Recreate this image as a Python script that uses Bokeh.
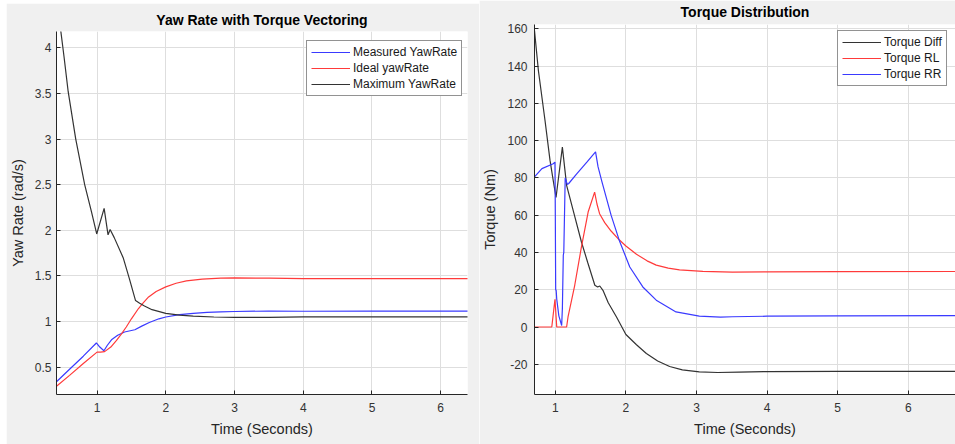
from bokeh.plotting import figure
from bokeh.layouts import row
from bokeh.models import (FixedTicker, CustomJSTickFormatter, Legend,
                          LegendItem, Range1d)
from bokeh.embed import file_html
from bokeh.resources import INLINE

# ---------------- data: Yaw Rate with Torque Vectoring ----------------
yaw_titles = ["Measured YawRate", "Ideal yawRate", "Maximum YawRate"]

t_measured = [0.41, 0.6, 0.8, 0.99, 1.04, 1.10, 1.15, 1.21, 1.30, 1.40, 1.55,
              1.65, 1.76, 1.9, 2.0, 2.2, 2.4, 2.6, 2.8, 3.0, 3.5, 4.0, 5.0, 6.4]
measured_yaw = [0.34, 0.477, 0.62, 0.765, 0.72, 0.68, 0.74, 0.80, 0.85, 0.885,
                0.91, 0.95, 0.99, 1.03, 1.05, 1.075, 1.09, 1.10, 1.105, 1.11,
                1.115, 1.113, 1.115, 1.115]

t_ideal = [0.41, 0.6, 0.8, 1.0, 1.05, 1.11, 1.2, 1.28, 1.35, 1.425, 1.5, 1.6,
           1.665, 1.75, 1.86, 2.0, 2.15, 2.3, 2.53, 2.8, 3.0, 3.5, 4.0, 5.0, 6.4]
ideal_yaw = [0.29, 0.41, 0.54, 0.665, 0.665, 0.67, 0.72, 0.79, 0.86, 0.94, 1.03,
             1.14, 1.20, 1.27, 1.33, 1.38, 1.42, 1.445, 1.465, 1.475, 1.478,
             1.475, 1.47, 1.47, 1.47]

t_maximum = [0.41, 0.47, 0.52, 0.58, 0.69, 0.82, 0.92, 0.995, 1.103, 1.16, 1.19,
             1.25, 1.38, 1.47, 1.56, 1.62, 1.69, 1.8, 2.0, 2.2, 2.4, 2.7, 3.0,
             3.5, 4.0, 5.0, 6.4]
maximum_yaw = [4.55, 4.2, 3.9, 3.52, 3.0, 2.5, 2.2, 1.96, 2.24, 1.95, 2.01, 1.92,
               1.70, 1.47, 1.23, 1.20, 1.17, 1.13, 1.09, 1.07, 1.06, 1.05, 1.045,
               1.045, 1.05, 1.05, 1.05]

yaw_xticks = [1, 2, 3, 4, 5, 6]
yaw_yticks = [0.5, 1, 1.5, 2, 2.5, 3, 3.5, 4]

# ---------------- data: Torque Distribution ----------------
torque_titles = ["Torque Diff", "Torque RL", "Torque RR"]

t_diff = [0.705, 0.76, 0.854, 0.925, 0.97, 1.01, 1.10, 1.16, 1.25, 1.37, 1.46,
          1.56, 1.60, 1.63, 1.675, 1.75, 1.867, 2.0, 2.15, 2.29, 2.45, 2.62,
          2.8, 3.04, 3.3, 3.6, 4.0, 5.0, 6.7]
torque_diff = [159, 137.6, 110.8, 89.4, 78.7, 69.5, 96.5, 76, 63, 45.6, 34.5,
               22.4, 21.5, 22.0, 19.7, 13, 5.4, -4, -9.5, -14.2, -18.2, -21.2,
               -23.0, -24.1, -24.4, -24.2, -23.9, -23.8, -23.8]

t_rl = [0.705, 0.95, 0.995, 1.02, 1.16, 1.18, 1.275, 1.37, 1.465, 1.557, 1.59,
        1.627, 1.70, 1.79, 1.905, 2.0, 2.15, 2.3, 2.43, 2.6, 2.76, 3.09, 3.51,
        4.0, 5.0, 6.7]
torque_rl = [0, 0, 14.9, 0, 0, 5.4, 22.4, 43, 61.7, 72.4, 66, 60.8, 56.0, 51.5,
             46.8, 43.5, 39.0, 35.5, 33.2, 31.6, 30.7, 29.9, 29.5, 29.6, 29.7,
             29.8]

t_rr = [0.705, 0.81, 0.97, 0.995, 1.0, 1.005, 1.012, 1.02, 1.05, 1.09, 1.10,
        1.113, 1.12, 1.135, 1.14, 1.17, 1.19, 1.30, 1.45, 1.57, 1.605, 1.66,
        1.79, 1.905, 2.055, 2.24, 2.43, 2.71, 3.04, 3.34, 3.51, 4.0, 5.0, 6.7]
torque_rr = [80.5, 85, 87.6, 88.5, 60, 20, 19.7, 15, 6, 0.8, 10, 38.5, 40, 70,
             80, 76.5, 77, 82, 88.6, 94, 86, 78, 60, 46.6, 32.2, 21.5, 14.4, 8.1,
             5.8, 5.3, 5.5, 5.8, 6.0, 6.1]

torque_xticks = [1, 2, 3, 4, 5, 6]
torque_yticks = [-20, 0, 20, 40, 60, 80, 100, 120, 140, 160]

# ---------------- styling ----------------
FONT = "Liberation Sans"
BLUE = "#3a3aff"
RED = "#ff3a3a"
BLACK = "#333333"
AXC = "#262626"


def style(p, title, xticks, yticks, xlabel, ylabel, y_std, t_std, t_valign):
    p.background_fill_color = "white"
    p.border_fill_color = "#f0f0f0"
    p.outline_line_color = None
    p.title.text = title
    p.title.align = "center"
    p.title.vertical_align = t_valign
    p.title.text_font = FONT
    p.title.text_font_size = "14px"
    p.title.text_font_style = "bold"
    p.title.text_color = "black"
    p.title.standoff = t_std
    for ax, ticks, lab in ((p.xaxis[0], xticks, xlabel), (p.yaxis[0], yticks, ylabel)):
        ax.ticker = FixedTicker(ticks=ticks)
        ax.formatter = CustomJSTickFormatter(code="return String(tick)")
        ax.minor_tick_line_color = None
        ax.major_tick_in = 4
        ax.major_tick_out = 0
        ax.major_tick_line_color = AXC
        ax.axis_line_color = AXC
        ax.axis_line_width = 1
        ax.major_label_text_font = FONT
        ax.major_label_text_font_size = "12px"
        ax.major_label_text_color = "#333333"
        ax.axis_label = lab
        ax.axis_label_text_font = FONT
        ax.axis_label_text_font_size = "14.5px"
        ax.axis_label_text_font_style = "normal"
        ax.axis_label_text_color = "#262626"
    p.xaxis[0].major_label_standoff = 8
    p.xaxis[0].axis_label_standoff = 6
    p.yaxis[0].major_label_standoff = y_std
    p.yaxis[0].axis_label_standoff = 6
    for g in (p.xgrid[0], p.ygrid[0]):
        g.grid_line_color = "#dedede"
        g.grid_line_width = 1


def make_legend(p, items, loc):
    leg = Legend(items=items, location=loc)
    leg.background_fill_color = "white"
    leg.background_fill_alpha = 1
    leg.border_line_color = AXC
    leg.border_line_width = 1
    leg.label_text_font = FONT
    leg.label_text_font_size = "12px"
    leg.label_text_color = "#1a1a1a"
    leg.glyph_width = 39
    leg.glyph_height = 14
    leg.label_height = 14
    leg.label_standoff = 3
    leg.spacing = 2
    leg.padding = 4
    leg.margin = 0
    p.add_layout(leg)


# ---------------- left plot ----------------
p1 = figure(width=473, height=441, x_range=Range1d(0.41, 6.39),
            y_range=Range1d(0.2, 4.18), output_backend="svg",
            toolbar_location=None, min_border_left=47, min_border_right=12,
            min_border_top=28, min_border_bottom=50, frame_align=False,
            margin=(3, 0, 0, 6))
style(p1, "Yaw Rate with Torque Vectoring", yaw_xticks, yaw_yticks,
      "Time (Seconds)", "Yaw Rate (rad/s)", 5, 7, "bottom")
r_m = p1.line(t_measured, measured_yaw, line_color=BLUE, line_width=1.2)
r_i = p1.line(t_ideal, ideal_yaw, line_color=RED, line_width=1.2)
r_x = p1.line(t_maximum, maximum_yaw, line_color=BLACK, line_width=1.2)
make_legend(p1, [LegendItem(label=yaw_titles[0], renderers=[r_m]),
                 LegendItem(label=yaw_titles[1], renderers=[r_i]),
                 LegendItem(label=yaw_titles[2], renderers=[r_x])], (250, 298))

# ---------------- right plot ----------------
p2 = figure(width=476, height=444, x_range=Range1d(0.705, 6.67),
            y_range=Range1d(-36.2, 162.3), output_backend="svg",
            toolbar_location=None, min_border_left=52, min_border_right=0,
            min_border_top=24, min_border_bottom=50, frame_align=False,
            margin=(0, 0, 0, 0))
style(p2, "Torque Distribution", torque_xticks, torque_yticks,
      "Time (Seconds)", "Torque (Nm)", 7, 6, "top")
r_d = p2.line(t_diff, torque_diff, line_color=BLACK, line_width=1.2)
r_l = p2.line(t_rl, torque_rl, line_color=RED, line_width=1.2)
r_r = p2.line(t_rr, torque_rr, line_color=BLUE, line_width=1.2)
make_legend(p2, [LegendItem(label=torque_titles[0], renderers=[r_d]),
                 LegendItem(label=torque_titles[1], renderers=[r_l]),
                 LegendItem(label=torque_titles[2], renderers=[r_r])], (303, 308))

layout = row(p1, p2)
open("out.html", "w").write(file_html(layout, INLINE))
